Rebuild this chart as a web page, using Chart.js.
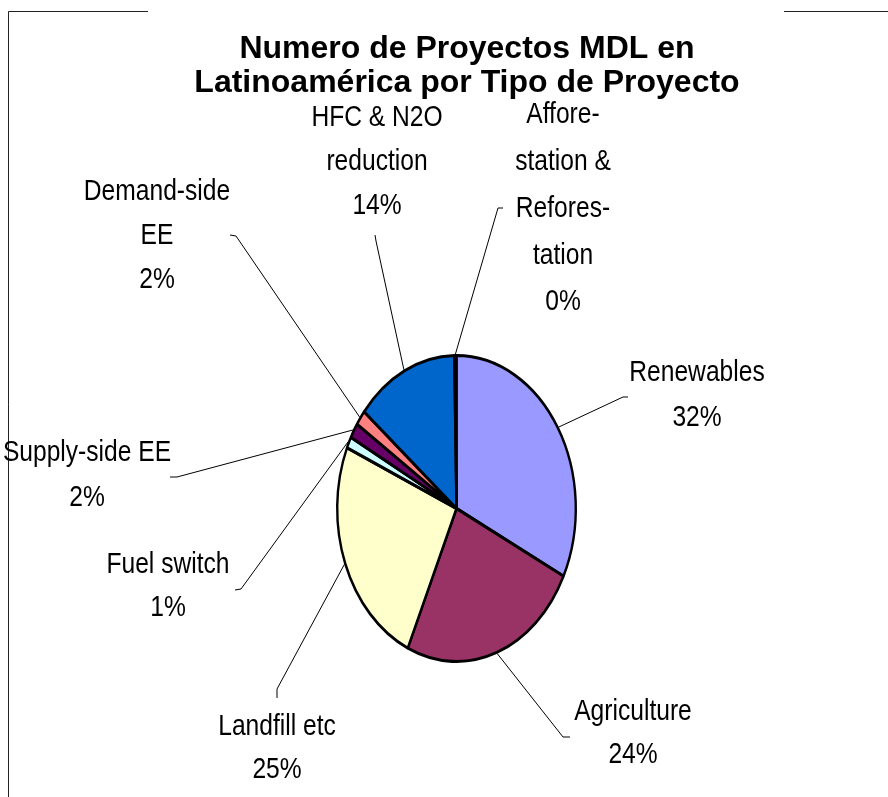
<!DOCTYPE html>
<html>
<head>
<meta charset="utf-8">
<script src="https://cdn.jsdelivr.net/npm/chart.js@4/dist/chart.umd.min.js"></script>
<style>
  html, body { margin: 0; padding: 0; background: #fff; }
  #pieChart { display: block; }
</style>
</head>
<body>
<canvas id="pieChart" width="888" height="797"></canvas>
<script>
// --- Data ---
const titleLines = ['Numero de Proyectos MDL en', 'Latinoamérica por Tipo de Proyecto'];
const categories = [
    'Renewables',
    'Agriculture',
    'Landfill etc',
    'Fuel switch',
    'Supply-side EE',
    'Demand-side\nEE',
    'HFC & N2O\nreduction',
    'Affore-\nstation &\nRefores-\ntation'
];
const shares = [32.3, 24.4, 24.8, 1.2, 1.6, 1.6, 13.8, 0.3];
const sliceColors = ['#9999FF', '#993366', '#FFFFCC', '#CCFFFF', '#660066', '#FF8080', '#0066CC', '#CCCCFF'];

// --- Layout of the data labels (Excel places them by hand) ---
// x/y = centre of the first text line, lh = line step, elbow/tick = leader line end near the text
const labelLayout = [
    { x: 697, y: 373, lh: 45, elbow: [623, 397], tick: [628, 397] },
    { x: 633, y: 712, lh: 43, elbow: [563, 737], tick: [570, 737] },
    { x: 277, y: 727, lh: 43, elbow: [277, 689], tick: [277, 698] },
    { x: 168, y: 565, lh: 43, elbow: [241, 589], tick: [235, 590] },
    { x: 87,  y: 453, lh: 45, elbow: [177, 477], tick: [170, 477] },
    { x: 157, y: 192, lh: 44, elbow: [236, 236], tick: [230, 235] },
    { x: 377, y: 118, lh: 44, elbow: [376, 241], tick: [375, 235] },
    { x: 563, y: 115, lh: 46.8, elbow: [498, 208], tick: [503, 208] }
];
const yStretch = 154.5 / 120.5; // the pie is drawn as an upright ellipse

function fontExists(name) {
    const c = document.createElement('canvas').getContext('2d');
    c.font = '30px monospace';
    const a = c.measureText('Agriculture mmm').width;
    c.font = `30px "${name}", monospace`;
    const b = c.measureText('Agriculture mmm').width;
    return a !== b;
}
const hasNarrow = fontExists('Liberation Sans Narrow');
const labelFont = hasNarrow ? '30px "Liberation Sans Narrow"' : '30px "Liberation Sans", Arial, sans-serif';
const labelSqueeze = hasNarrow ? 1 : 0.82;

function drawText(ctx, text, x, y) {
    ctx.save();
    ctx.translate(x, y);
    ctx.scale(labelSqueeze, 1);
    ctx.fillText(text, 0, 0);
    ctx.restore();
}

// --- Plugins ---
const framePlugin = {
    id: 'frame',
    beforeDraw(chart) {
        const ctx = chart.ctx;
        ctx.save();
        ctx.strokeStyle = '#222';
        ctx.lineWidth = 1;
        ctx.beginPath();
        ctx.moveTo(148, 11.5);
        ctx.lineTo(8.5, 11.5);
        ctx.lineTo(8.5, 797);
        ctx.moveTo(784, 11.5);
        ctx.lineTo(888, 11.5);
        ctx.stroke();
        ctx.restore();
    }
};

const ellipsePlugin = {
    id: 'ellipse',
    beforeDatasetsDraw(chart) {
        const arc = chart.getDatasetMeta(0).data[0];
        const ctx = chart.ctx;
        ctx.save();
        ctx.translate(arc.x, arc.y);
        ctx.scale(1, yStretch);
        ctx.translate(-arc.x, -arc.y);
    },
    afterDatasetsDraw(chart) {
        chart.ctx.restore();
    }
};

const labelPlugin = {
    id: 'sliceLabels',
    afterDraw(chart) {
        const ctx = chart.ctx;
        const meta = chart.getDatasetMeta(0);
        const total = shares.reduce((s, v) => s + v, 0);

        // title
        ctx.save();
        ctx.fillStyle = '#000';
        ctx.textAlign = 'center';
        ctx.textBaseline = 'middle';
        ctx.font = 'bold 32px "Liberation Sans", Arial, sans-serif';
        titleLines.forEach((line, i) => ctx.fillText(line, 467, 49 + i * 34));
        ctx.restore();

        meta.data.forEach((arc, i) => {
            const lay = labelLayout[i];
            const mid = (arc.startAngle + arc.endAngle) / 2;
            const r = arc.outerRadius + 1;
            const ex = arc.x + r * Math.cos(mid);
            const ey = arc.y + r * Math.sin(mid) * yStretch;

            ctx.save();
            ctx.strokeStyle = '#000';
            ctx.lineWidth = 1;
            ctx.beginPath();
            ctx.moveTo(ex, ey);
            ctx.lineTo(lay.elbow[0], lay.elbow[1]);
            ctx.lineTo(lay.tick[0], lay.tick[1]);
            ctx.stroke();

            ctx.fillStyle = '#000';
            ctx.textAlign = 'center';
            ctx.textBaseline = 'middle';
            ctx.font = labelFont;
            const lines = categories[i].split('\n');
            lines.push(Math.round(shares[i] / total * 100) + '%');
            lines.forEach((line, j) => drawText(ctx, line, lay.x, lay.y + j * lay.lh));
            ctx.restore();
        });
    }
};

// --- Chart ---
const chartCtx = document.getElementById('pieChart').getContext('2d');
new Chart(chartCtx, {
    type: 'pie',
    data: {
        labels: categories,
        datasets: [{
            data: shares,
            backgroundColor: sliceColors,
            borderColor: '#000',
            borderWidth: 2.4
        }]
    },
    options: {
        responsive: false,
        animation: false,
        events: [],
        radius: 119.3,
        layout: {
            padding: { left: 25, right: 0, top: 388, bottom: 168 }
        },
        plugins: {
            legend: { display: false },
            tooltip: { enabled: false },
            title: { display: false }
        }
    },
    plugins: [framePlugin, ellipsePlugin, labelPlugin]
});
</script>
</body>
</html>
